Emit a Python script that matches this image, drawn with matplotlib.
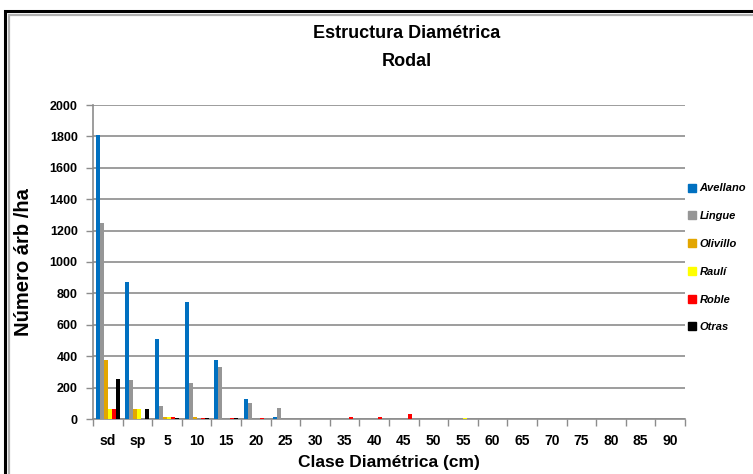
import matplotlib.pyplot as plt
import numpy as np
from matplotlib.lines import Line2D
from matplotlib.patches import Rectangle

plt.rcParams["font.family"] = ["Liberation Sans", "DejaVu Sans"]

CLASSES = ["sd", "sp", "5", "10", "15", "20", "25", "30", "35", "40",
           "45", "50", "55", "60", "65", "70", "75", "80", "85", "90"]

AVELLANO = [1810, 871, 507, 743, 376, 125, 10, 3, 0, 0, 0, 0, 0, 0, 0, 0, 0, 0, 0, 0]
LINGUE = [1250, 248, 83, 227, 333, 104, 70, 0, 0, 0, 0, 0, 0, 0, 0, 0, 0, 0, 0, 0]
OLIVILLO = [376, 62, 15, 10, 3, 3, 0, 0, 0, 0, 0, 0, 0, 0, 0, 0, 0, 0, 0, 0]
RAULI = [62, 62, 15, 0, 0, 0, 3, 0, 3, 3, 0, 0, 5, 0, 0, 0, 0, 0, 0, 0]
ROBLE = [62, 0, 10, 4, 8, 8, 3, 3, 10, 10, 32, 3, 3, 0, 3, 0, 0, 0, 0, 3]
OTRAS = [253, 62, 8, 8, 8, 0, 0, 0, 0, 0, 0, 0, 0, 0, 0, 0, 0, 0, 0, 0]

SERIES = [
    ("Avellano", AVELLANO, "#0070C0"),
    ("Lingue", LINGUE, "#969696"),
    ("Olivillo", OLIVILLO, "#E3A600"),
    ("Raulí", RAULI, "#FFFF00"),
    ("Roble", ROBLE, "#FF0000"),
    ("Otras", OTRAS, "#000000"),
]

fig = plt.figure(figsize=(7.53, 4.74), dpi=100)

# double frame around the chart
fig.add_artist(Rectangle((4.5 / 753, -0.1), 1.2, 1 - 11 / 474 + 0.1,
                         transform=fig.transFigure, fill=False,
                         edgecolor="black", lw=2.2))
fig.add_artist(Rectangle((9 / 753, -0.1), 1.2, 1 - 15 / 474 + 0.1,
                         transform=fig.transFigure, fill=False,
                         edgecolor="#b0b0b0", lw=1.6))

ax = fig.add_axes([93 / 753, 1 - 419 / 474, 592 / 753, 314 / 474])

x = np.arange(len(CLASSES))
bar_w = 0.135
offsets = (np.arange(len(SERIES)) - (len(SERIES) - 1) / 2) * bar_w
for (name, vals, color), off in zip(SERIES, offsets):
    ax.bar(x + off, vals, width=bar_w, color=color, linewidth=0, zorder=3)

ax.set_xlim(-0.5, len(CLASSES) - 0.5)
ax.set_ylim(0, 2000)
ax.set_yticks(range(0, 2001, 200))
ax.yaxis.grid(True, color="#8c8c8c", lw=1.2, zorder=0)
ax.set_axisbelow(True)

ax.set_xticks(x)
ax.set_xticklabels(CLASSES, fontsize=10, fontweight="bold")
ax.set_xticks(np.arange(-0.5, len(CLASSES)), minor=True)
ax.tick_params(axis="x", which="major", length=0, pad=11)
ax.tick_params(axis="x", which="minor", length=5, color="#8c8c8c", width=1)
ax.tick_params(axis="y", length=5, color="#8c8c8c", width=1, labelsize=9, pad=6)
for lab in ax.get_yticklabels():
    lab.set_fontweight("bold")

for side in ("top", "right"):
    ax.spines[side].set_visible(False)
for side in ("left", "bottom"):
    ax.spines[side].set_color("#8c8c8c")
    ax.spines[side].set_linewidth(1.2)

ax.set_ylabel("Número árb /ha", fontsize=14.5, fontweight="bold", labelpad=12)
ax.set_xlabel("Clase Diamétrica (cm)", fontsize=12.5, fontweight="bold",
              labelpad=5)

fig.text(407 / 753, 1 - 34 / 474, "Estructura Diamétrica", ha="center",
         va="center", fontsize=13, fontweight="bold")
fig.text(407 / 753, 1 - 61 / 474, "Rodal", ha="center", va="center",
         fontsize=13, fontweight="bold")

handles = [Line2D([], [], marker="s", linestyle="none", markersize=6,
                  markerfacecolor=c, markeredgecolor=c) for _, _, c in SERIES]
leg = fig.legend(handles, [s[0] for s in SERIES], loc="upper left",
                 bbox_to_anchor=(683 / 753, 1 - 179 / 474), frameon=False,
                 handlelength=0.8, handletextpad=0.3, labelspacing=1.6,
                 borderaxespad=0, prop={"size": 8, "weight": "bold",
                                        "style": "italic"})

fig.savefig("out.png", dpi=100)
